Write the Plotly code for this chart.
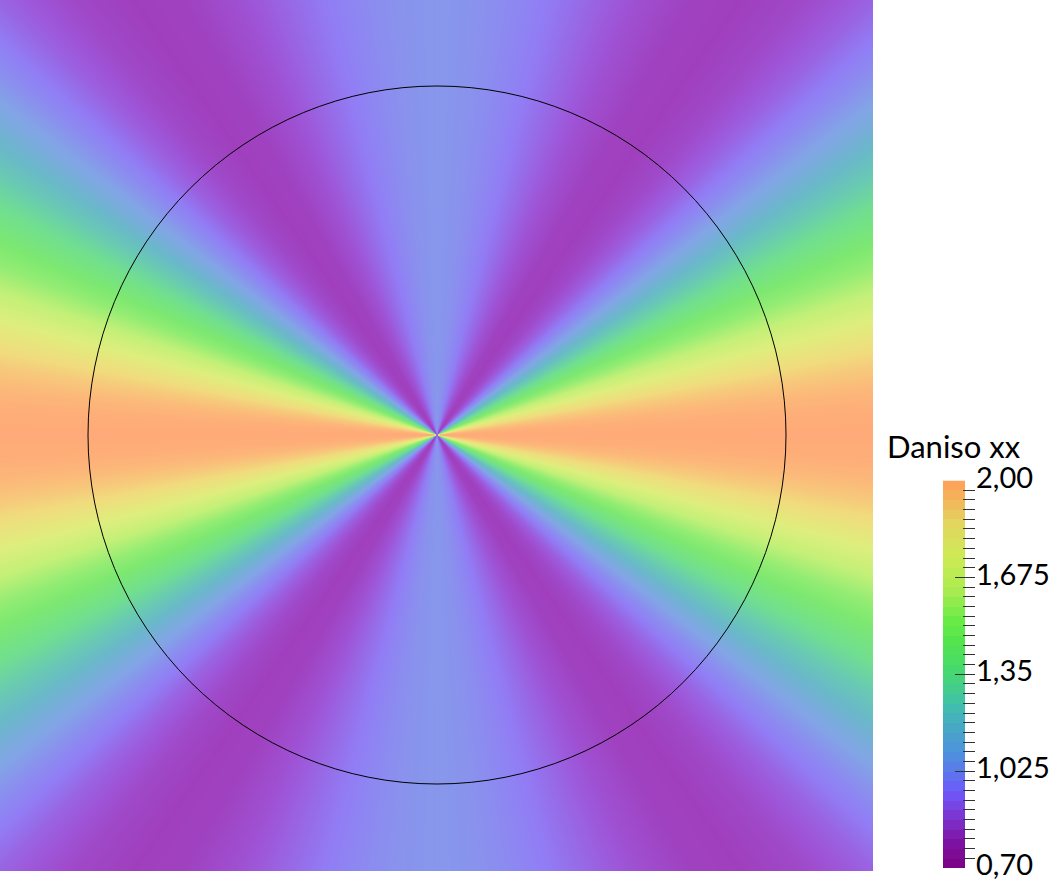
import numpy as np
import plotly.graph_objects as go

# Daniso xx, by polar angle (degrees from the +x axis)
angles = [0, 3, 6, 9, 12, 15, 18, 21, 24, 28, 32, 36, 40, 45, 50, 55, 60, 65, 70, 75, 80, 85, 90]
daniso = [2.00, 1.99, 1.96, 1.90, 1.82, 1.73, 1.63, 1.54, 1.46, 1.34, 1.22, 1.10, 1.00, 0.90, 0.83, 0.80, 0.81, 0.85, 0.90, 0.95, 0.99, 1.02, 1.03]

# colour ramp of the scale bar, and the same ramp as it looks lit on the surface
scale_values = [0.70, 0.79, 0.868, 0.958, 1.07, 1.18, 1.26, 1.35, 1.47, 1.53, 1.63, 1.74, 1.85, 1.94, 2.00]
bar_rgb = [(125, 0, 130), (125, 20, 165), (125, 50, 205), (110, 90, 250), (80, 140, 225),
           (70, 170, 195), (65, 195, 165), (70, 215, 115), (85, 230, 75), (105, 235, 70),
           (170, 235, 80), (205, 235, 85), (225, 215, 95), (245, 180, 90), (255, 160, 90)]
field_rgb = [(150, 40, 165), (160, 60, 185), (158, 85, 215), (145, 125, 245), (130, 165, 230),
             (105, 185, 200), (105, 202, 178), (112, 222, 145), (125, 232, 112), (145, 236, 115),
             (195, 240, 120), (222, 238, 125), (240, 220, 125), (250, 190, 122), (255, 170, 120)]

tick_vals = [0.70, 1.025, 1.35, 1.675, 2.00]
tick_text = ["0,70", "1,025", "1,35", "1,675", "2,00"]
n_bands = 40

W, H = 1054, 881
FONT = "Lato"
FIELD_W, FIELD_H = 873, 871
CX, CY, R = 437, 435, 349


def make_scale(rgb):
    lo, hi = scale_values[0], scale_values[-1]
    return [[(v - lo) / (hi - lo), f"rgb{c}"] for v, c in zip(scale_values, rgb)]


# field depends on the angle only, mirrored into all four quadrants
x = (np.arange(FIELD_W) + 0.5 - CX) / R
y = (CY - np.arange(FIELD_H) - 0.5) / R
xx, yy = np.meshgrid(x, y)
theta = np.degrees(np.arctan2(np.abs(yy), np.abs(xx)))
z = np.interp(theta, angles, daniso).astype("float32")

fig = go.Figure()
fig.add_trace(go.Heatmap(x=x, y=y, z=z, zmin=0.7, zmax=2.0, colorscale=make_scale(field_rgb),
                         showscale=False, hoverinfo="skip"))

# scale bar, stepped like the original
edges = np.linspace(0.7, 2.0, n_bands + 1)
mids = (edges[:-1] + edges[1:]) / 2
fig.add_trace(go.Heatmap(x=[0, 1], y=edges, z=[[v] for v in mids], zmin=0.7, zmax=2.0,
                         colorscale=make_scale(bar_rgb), showscale=False, hoverinfo="skip",
                         xaxis="x2", yaxis="y2"))

fig.add_shape(type="circle", xref="x", yref="y", x0=-1, x1=1, y0=-1, y1=1,
              line=dict(color="black", width=1))

fig.add_annotation(text="Daniso xx", xref="paper", yref="paper", x=885 / W, y=1 - 446 / H,
                   xanchor="left", yanchor="middle", showarrow=False,
                   font=dict(family=FONT, size=31, color="black"))

fig.update_layout(
    width=W, height=H, margin=dict(l=0, r=0, t=0, b=0, autoexpand=False), paper_bgcolor="white",
    plot_bgcolor="white", showlegend=False,
    xaxis=dict(visible=False, domain=[0, FIELD_W / W], range=[x[0] - 0.5 / R, x[-1] + 0.5 / R]),
    yaxis=dict(visible=False, domain=[1 - FIELD_H / H, 1], range=[y[-1] - 0.5 / R, y[0] + 0.5 / R]),
    xaxis2=dict(visible=False, domain=[943 / W, 965 / W], range=[0, 1]),
    yaxis2=dict(domain=[1 - 868 / H, 1 - 480.5 / H], range=[0.7, 2.0], anchor="free", position=975 / W,
                side="right", showgrid=False, zeroline=False, showline=False,
                ticks="inside", ticklen=20, tickwidth=1, tickcolor="#333333",
                tickmode="array", tickvals=tick_vals, ticktext=tick_text,
                ticklabeloverflow="allow", ticklabelshift=-3,
                tickfont=dict(family=FONT, size=29, color="black"),
                minor=dict(ticks="inside", ticklen=12, tickwidth=1, tickcolor="#333333",
                           dtick=0.0325, tick0=0.7, showgrid=False)),
)

# the page margin would shift the picture off the reference
fig.write_html("out.html", config=dict(displayModeBar=False),
               post_script="document.body.style.margin='0';document.documentElement.style.overflow='hidden';")
